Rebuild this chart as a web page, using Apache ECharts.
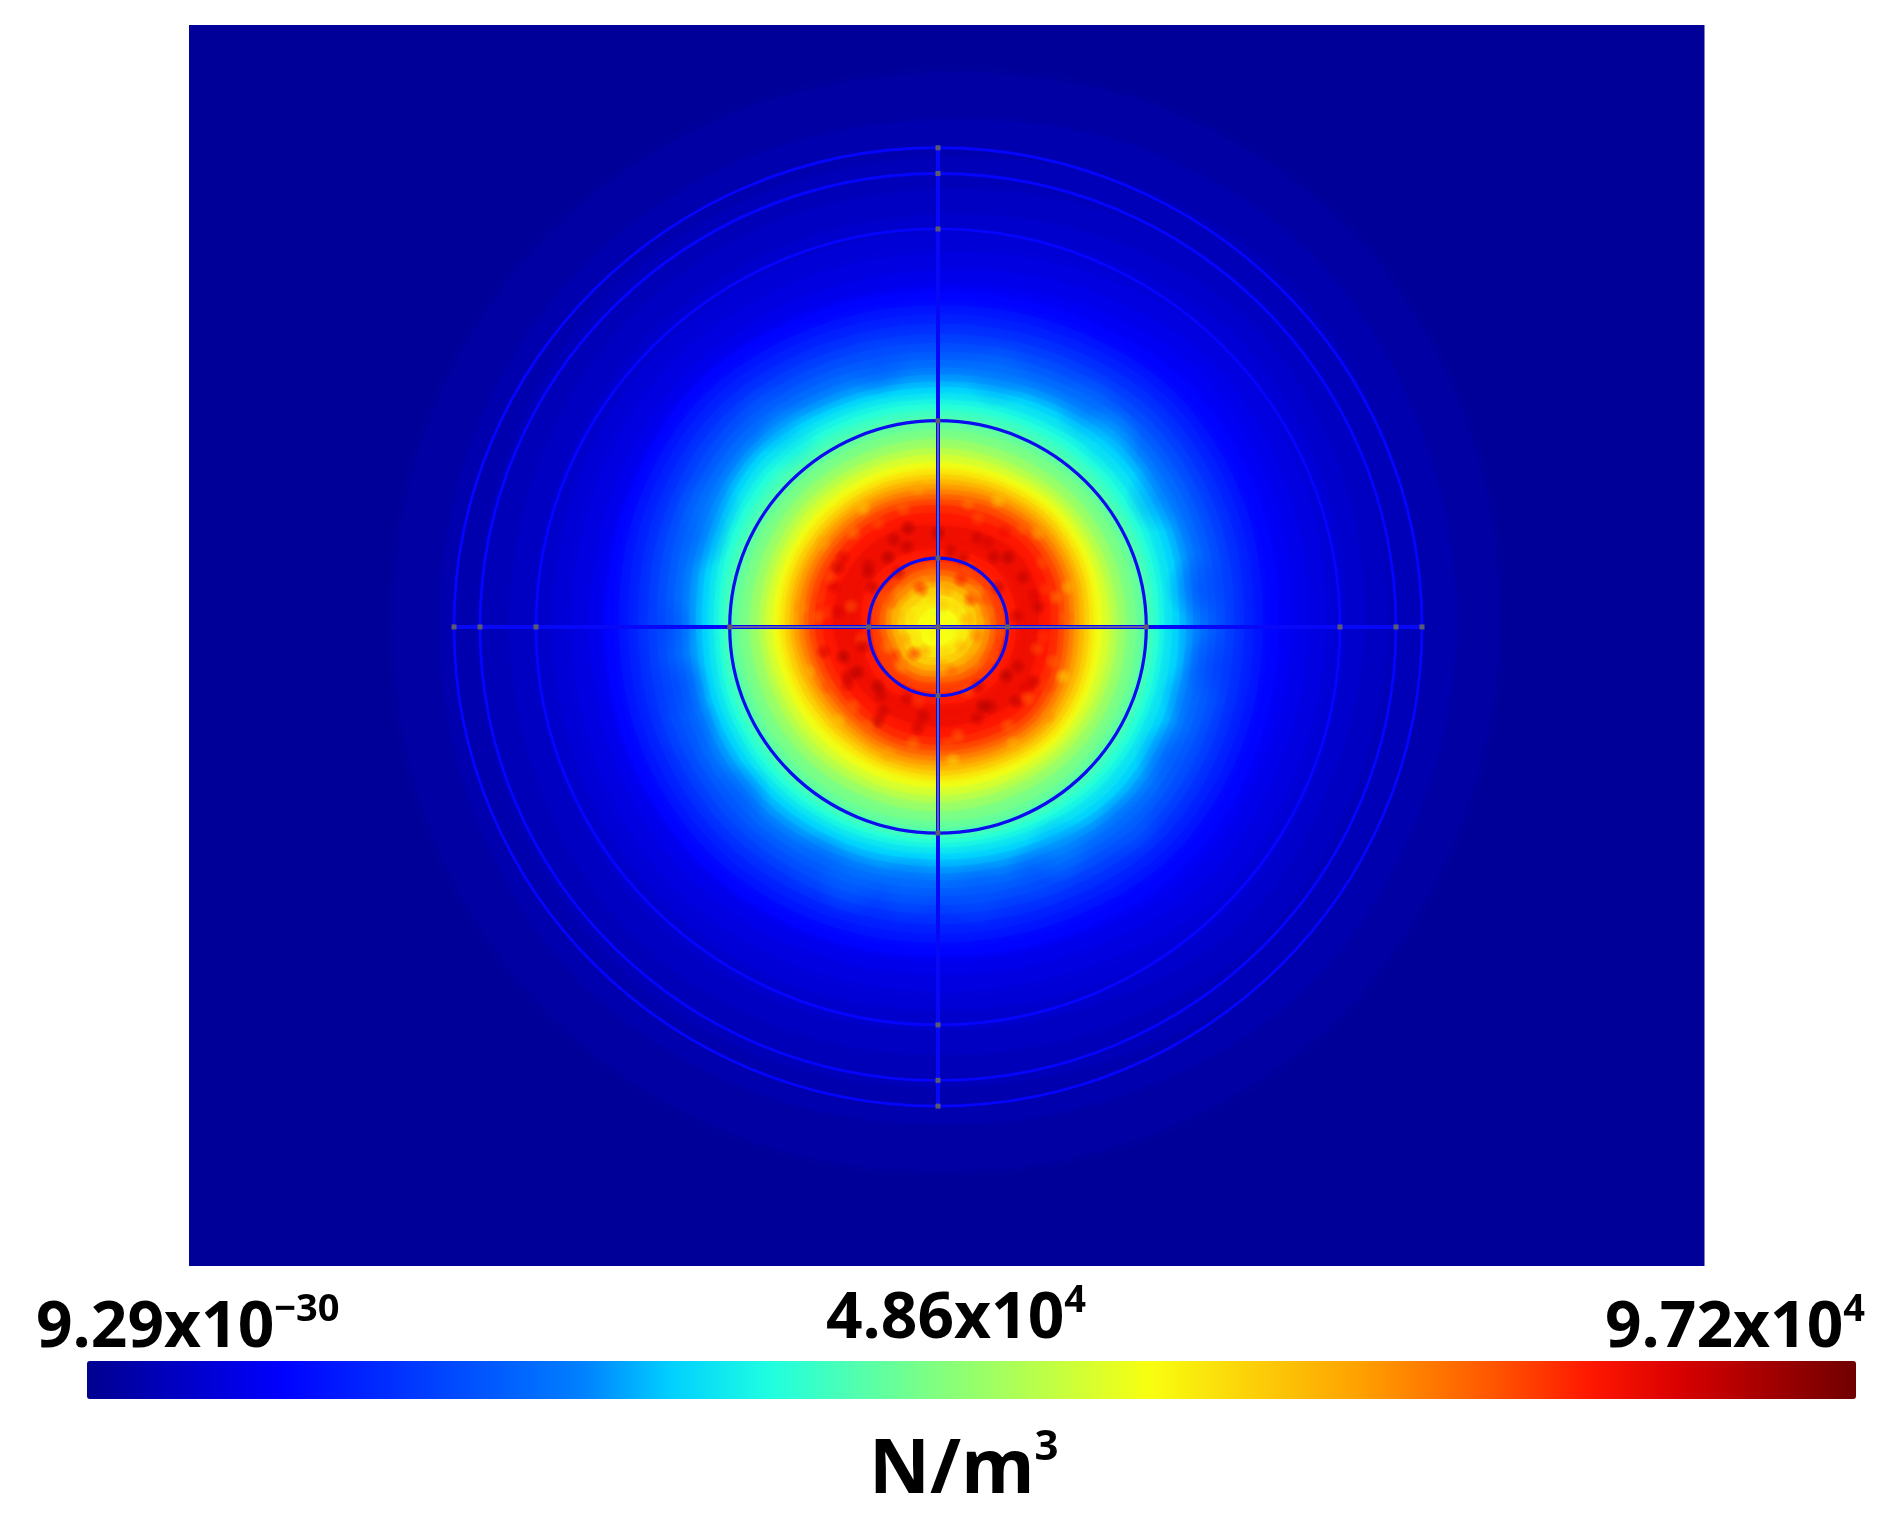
<!DOCTYPE html>
<html><head><meta charset="utf-8">
<style>html,body{margin:0;padding:0;background:#fff}#c{width:1890px;height:1524px}</style>
<script src="https://cdn.jsdelivr.net/npm/echarts@6/dist/echarts.min.js"></script>
</head><body><div id="c"></div>
<script>
// N/m^3 scale
const scaleMin = 0, scaleMax = 97200;
const minLabel = ['9.29x10','−30'], midLabel = ['4.86x10','4'], maxLabel = ['9.72x10','4'], unitLabel = ['N/m','3'];

// iso-value bands of the force density, outermost first
const contourLevels = [970,1940,2920,3890,4860,5830,6800,7780,8750,9720,11200,13100,14600,16500,18500,20400,22400,24300,26200,28200,30100,32100,34000,36000,37900,39900,41800,43700,45700,48600,51500,54400,57300,60300,63200,66100,69000,71900,74800,77800,80700,82600,84600,82600,79700,76800,72900,69000,65100,61200,58300];
// radius of each band, read in 16 directions from east, counter-clockwise
const contourRadii = [
[620,625,630,630,625,625,620,615,610,610,615,615,615,620,625,620],
[562,568,575,570,560,558,556,550,545,548,552,552,550,555,562,560],
[518,522,530,524,512,510,508,502,498,500,506,504,502,508,518,516],
[482,486,494,486,474,472,470,464,460,462,468,468,464,470,482,480],
[450,456,462,452,442,440,438,432,428,430,436,434,432,438,450,448],
[426,432,438,426,416,414,412,406,404,404,410,410,406,412,426,422],
[406,412,418,406,398,396,394,388,384,386,390,390,386,394,408,404],
[388,394,400,388,378,376,376,370,366,368,372,370,368,374,390,386],
[370,376,382,370,360,358,358,352,348,350,354,352,350,356,370,368],
[354,360,366,354,344,344,344,338,334,336,338,336,334,340,354,352],
[340,346,350,342,338,340,344,336,332,334,336,334,332,336,344,342],
[325,331,335,329,325,327,331,325,319,321,323,321,319,322,329,327],
[316,322,326,320,316,318,322,316,310,312,314,312,310,313,320,318],
[306,312,316,310,306,308,312,306,300,302,304,302,300,303,310,308],
[296,302,306,300,296,298,302,296,290,292,294,292,290,293,300,298],
[287,293,297,291,287,289,293,287,281,283,285,283,281,284,291,289],
[278,284,288,282,278,280,284,278,272,274,276,274,272,275,282,280],
[270,276,280,274,270,272,276,270,264,266,268,266,264,267,274,272],
[262,268,272,266,262,264,268,262,256,258,260,258,256,259,266,264],
[255,261,265,259,255,257,261,255,249,251,253,251,249,252,259,257],
[248,254,258,252,248,250,255,248,242,244,246,244,242,245,252,250],
[241,247,251,246,242,244,249,242,236,238,239,237,235,238,245,243],
[234,240,244,240,236,239,243,236,230,232,233,231,229,232,238,236],
[226,231,235,232,230,233,236,230,224,226,227,225,223,225,229,227],
[221,225,228,226,225,227,230,225,219,221,222,220,218,220,223,222],
[216,219,221,220,219,221,223,219,215,216,216,215,214,215,217,216],
[211,213,214,213,213,214,216,213,210,210,211,210,209,210,211,211],
[205,206,207,206,206,207,208,206,205,204,205,204,203,204,205,205],
[198,199,200,199,199,200,201,199,198,197,198,197,196,197,198,198],
[188,189,190,189,190,190,191,189,188,187,187,186,186,186,188,188],
[179,180,181,180,181,181,182,180,179,177,178,177,177,177,179,179],
[172,173,174,173,174,174,175,173,172,170,170,170,170,170,172,172],
[164,166,168,166,166,167,167,166,165,162,162,162,162,163,165,164],
[156,160,162,160,160,160,161,160,158,155,154,154,155,156,160,158],
[151,155,157,155,154,155,155,155,153,150,148,149,150,151,155,153],
[146,150,152,150,149,150,150,150,148,144,143,144,145,146,150,148],
[141,146,148,146,144,146,146,146,144,140,138,140,140,142,146,143],
[136,141,143,141,139,141,141,141,139,135,133,135,135,137,141,138],
[131,136,138,136,134,136,136,136,134,130,128,130,130,132,136,133],
[126,131,133,131,129,131,131,131,129,125,123,125,125,127,131,128],
[120,125,127,124,123,125,125,125,123,119,117,119,119,121,125,122],
[112,117,119,115,115,117,117,117,115,111,109,111,111,113,117,113],
[100,106,108,104,102,106,106,106,104,100,98,100,100,102,106,102],
[78,80,82,80,78,80,80,80,76,78,80,78,78,80,80,78],
[66,68,68,66,66,68,66,68,66,66,68,66,66,68,68,66],
[58,58,60,58,58,60,58,60,58,56,58,58,56,58,60,58],
[52,52,54,52,52,54,52,54,52,50,52,52,50,52,52,52],
[46,46,46,46,46,46,46,48,46,44,46,46,44,44,46,46],
[38,40,40,40,40,40,40,42,40,38,40,40,38,38,38,38],
[30,32,32,32,32,32,32,34,32,30,32,32,30,30,30,30],
[18,20,20,18,18,20,20,20,20,18,20,20,18,18,18,18]
];

// mottled spots
const speckleX = [-81,68,-31,-44,13,56,39,-31,39,-57,96,79,-104,-114,99,-87,-37,29,-77,63,13,-9,9,-16,-31,-6,18,-27,8,23,29,-41,-34,-14,39,-21,9,-47,13,46,-17,-24,33,-44,23,-70,-95,78,108,-60,-20,20,52,88,-8,-90,110,-112,66,-66,
  130,125,100,60,-20,-75,-115,-137,-130,-100,-50,15,75,110,128,105,-108,-60,40,-85,10,90,-30,50,85,105,80,45,-15,-55,-95,-100,-70,0,25,-50,-75,
  -120,-110,-85,-35,30,85,118,115,70,-25,-70,-118,95,60,-60,40,-40,70,-100,100,-90,-20,30,-55,55,-50,50,5,-5,-35,35,38,-38,0,-5,15,-18,5,-22,24];
const speckleY = [-46,-49,81,88,76,71,90,-72,-92,-69,31,11,41,-25,-22,21,-39,-65,-12,-5,-9,-12,11,16,13,31,20,-7,-27,-20,8,13,-12,-25,-9,45,38,25,-45,28,38,-27,28,-29,48,62,70,-75,38,-95,-102,-110,-80,-62,58,-58,-60,15,96,40,
  40,-50,95,128,140,120,85,20,-45,-95,-128,-135,-118,-90,10,65,50,105,110,-80,-118,-72,100,85,50,-10,-40,-80,-90,-85,-30,15,55,95,70,70,-20,
  10,-60,95,120,125,100,30,-35,-100,-118,-100,30,-55,40,-60,-60,55,70,60,20,-50,-75,60,30,-30,-20,15,-40,50,-40,-35,35,35,15,-5,0,-2,22,28,-6];
const speckleValues = [92300,92300,90400,90400,90400,90400,89400,89400,89400,89400,87500,89400,87500,87500,77800,77800,75800,77800,79700,77800,58300,58300,58300,60300,63200,64200,63200,61200,64200,68000,70000,68000,70000,70000,73900,75800,70000,75800,75800,77800,81600,81600,81600,81600,83600,89400,87500,90400,79700,90400,89400,75800,90400,87500,75800,88400,79700,79700,85000,90400,
  68000,64000,70000,66000,70000,66000,70000,72000,68000,66000,70000,64000,68000,72000,76000,78000,78000,78000,78000,76000,78000,76000,92000,88000,90000,80000,90000,92000,90000,90000,92000,88000,90000,92000,90000,92000,90000,
  76000,78000,74000,76000,74000,76000,74000,76000,76000,74000,76000,80000,90000,90000,92000,90000,90000,92000,90000,90000,90000,80000,78000,78000,78000,74000,74000,70000,74000,72000,72000,72000,72000,56000,60000,56000,60000,66000,64000,60000];

// brighter lumps in the blue halo
const lumpX = [220,150,-170,-240,-200,100,230,-60,260,-260,190,-120,-150,60,170,-230,-275,-250,255,275,-30,40,120,-90];
const lumpY = [130,220,210,90,-170,-250,-130,265,40,-60,-200,-240,190,255,190,120,0,-100,-70,-40,-262,-270,-225,-258];
const lumpValues = [24000,26000,24000,22000,20000,20000,20000,20000,16000,16000,24000,22000,32000,26000,32000,26000,18000,20000,22000,16000,24000,22000,28000,26000];

// probe circles and cross
const circleRadii = [484,458,402,208.3,69.5];
const crossExtent = [-484,484];
const crossCoreExtent = [-208.3,208.3];
const markerX = [0,484,458,402,208.3,69.5,-69.5,-208.3,-402,-458,-484,0,0,0,0,0,0,0,0,0,0];
const markerY = [0,0,0,0,0,0,0,0,0,0,0,484,458,402,208.3,69.5,-69.5,-208.3,-402,-458,-484];

// jet ramp anchors as seen on the colour bar
const rampAnchors = [[0,[0,0,143]],[.11,[0,0,255]],[.28,[0,128,255]],[.33,[0,208,255]],[.387,[32,255,224]],[.48,[128,255,128]],[.60,[248,255,16]],[.72,[255,160,0]],[.80,[255,80,0]],[.85,[255,24,0]],[.90,[216,0,0]],[1,[112,0,0]]];
const jetColors = [];
for (let i=0;i<=100;i++){ const t=i/100; let k=0; while(k<rampAnchors.length-2 && t>rampAnchors[k+1][0]) k++;
  const a=rampAnchors[k], b=rampAnchors[k+1], u=(t-a[0])/(b[0]-a[0]);
  jetColors.push('rgb('+a[1].map((c,j)=>Math.round(c+(b[1][j]-c)*u)).join(',')+')'); }

const chart = echarts.init(document.getElementById('c'), null, {renderer:'canvas'});
const font = '"Open Sans","Noto Sans",sans-serif';
function label(parts, x, y, size, supSize, supDrop){
  return {type:'text', x, y, z:20, style:{
    text:'{a|'+parts[0]+'}{b|'+parts[1]+'}', align:'left', verticalAlign:'top',
    rich:{
      a:{fontFamily:font,fontWeight:700,fontSize:size,lineHeight:size*1.2,fill:'#000',color:'#000',verticalAlign:'bottom'},
      b:{fontFamily:font,fontWeight:700,fontSize:supSize,lineHeight:size*1.2,fill:'#000',color:'#000',verticalAlign:'top',padding:[supDrop,0,0,0]}
    }}};
}
// closed smooth outline through the read radii
function outline(pts){
  const out=[], n=pts.length;
  for(let i=0;i<n;i++){
    const p0=pts[(i+n-1)%n],p1=pts[i],p2=pts[(i+1)%n],p3=pts[(i+2)%n];
    for(let s=0;s<6;s++){const t=s/6,t2=t*t,t3=t2*t;
      out.push([0,1].map(d=>0.5*(2*p1[d]+(p2[d]-p0[d])*t+(2*p0[d]-5*p1[d]+4*p2[d]-p3[d])*t2+(3*p1[d]-p0[d]-3*p2[d]+p3[d])*t3)));
    }
  }
  return out;
}
const polygonRender = (p, api) => {
  const row = contourRadii[api.value(0)];
  const pts = row.map((r,i)=>{const a=i*Math.PI/8; return api.coord([r*Math.cos(a), r*Math.sin(a)]);});
  const col = api.visual('color');
  return {type:'polygon', shape:{points:outline(pts)}, style:{fill:col, shadowBlur:10, shadowColor:col}};
};
const blobRender = (size, alpha) => (p, api) => {
  const c = api.coord([api.value(0), api.value(1)]);
  const col = api.visual('color');
  const ma = echarts.color.modifyAlpha;
  return {type:'circle', shape:{cx:c[0], cy:c[1], r:size},
    style:{fill:{type:'radial',x:.5,y:.5,r:.5,colorStops:[{offset:0,color:ma(col,alpha)},{offset:.5,color:ma(col,alpha*.6)},{offset:1,color:ma(col,0)}]}}};
};
const circleRender = (p, api) => {
  const r = api.value(0);
  const c = api.coord([0,0]); const s = api.size([r,r]);
  return {type:'ellipse', shape:{cx:c[0], cy:c[1], rx:s[0], ry:s[1]},
    style:{fill:null, stroke: r<300 ? '#0c0cf0':'#0404ff', lineWidth: r<300 ? 3.2 : 2.8}};
};
chart.setOption({
  animation:false,
  backgroundColor:'#fff',
  grid:{left:189, top:25, width:1515.5, height:1241, show:true, backgroundColor:'#000098', borderWidth:0},
  xAxis:{type:'value', min:-749, max:766.5, show:false},
  yAxis:{type:'value', min:-645.5, max:608, show:false},
  visualMap:{type:'continuous', min:scaleMin, max:scaleMax, dimension:2, seriesIndex:[0,1,2], orient:'horizontal',
    left:87, top:1361, itemWidth:38, itemHeight:1769, padding:0, borderRadius:0, calculable:false, realtime:false, showLabel:false, text:null,
    inRange:{color:jetColors}},
  series:[
    {type:'custom', coordinateSystem:'cartesian2d', clip:true, z:1, renderItem:polygonRender,
      encode:{x:0,y:1}, data:contourLevels.map((v,i)=>[i,0,v])},
    {type:'custom', coordinateSystem:'cartesian2d', z:2, renderItem:blobRender(34,0.32), encode:{x:0,y:1},
      data:lumpX.map((x,i)=>[x,lumpY[i],lumpValues[i]])},
    {type:'custom', coordinateSystem:'cartesian2d', z:2, renderItem:blobRender(9,0.6), encode:{x:0,y:1},
      data:speckleX.map((x,i)=>[x,speckleY[i],speckleValues[i]])},
    {type:'custom', coordinateSystem:'cartesian2d', z:3, renderItem:circleRender, encode:{x:0,y:1}, data:circleRadii.map(r=>[r,0])},
    {type:'line', z:4, showSymbol:false, lineStyle:{color:'#0808f8', width:4}, data:crossExtent.map(x=>[x,0])},
    {type:'line', z:4, showSymbol:false, lineStyle:{color:'#0808f8', width:4}, data:crossExtent.map(y=>[0,y])},
    {type:'line', z:5, showSymbol:false, lineStyle:{color:'#707088', width:2, opacity:0.85}, data:crossCoreExtent.map(x=>[x,0])},
    {type:'line', z:5, showSymbol:false, lineStyle:{color:'#707088', width:2, opacity:0.85}, data:crossCoreExtent.map(y=>[0,y])},
    {type:'scatter', z:6, symbol:'rect', symbolSize:5, itemStyle:{color:'#606068', opacity:0.95}, silent:true,
      data:markerX.map((x,i)=>[x,markerY[i]])}
  ],
  graphic:[
    label(minLabel, 36, 1284, 64, 38, 7),
    label(midLabel, 826, 1275, 64, 38, 7),
    label(maxLabel, 1605, 1284, 64, 38, 7),
    label(unitLabel, 869, 1419, 75, 42, 8)
  ]
});
</script></body></html>
